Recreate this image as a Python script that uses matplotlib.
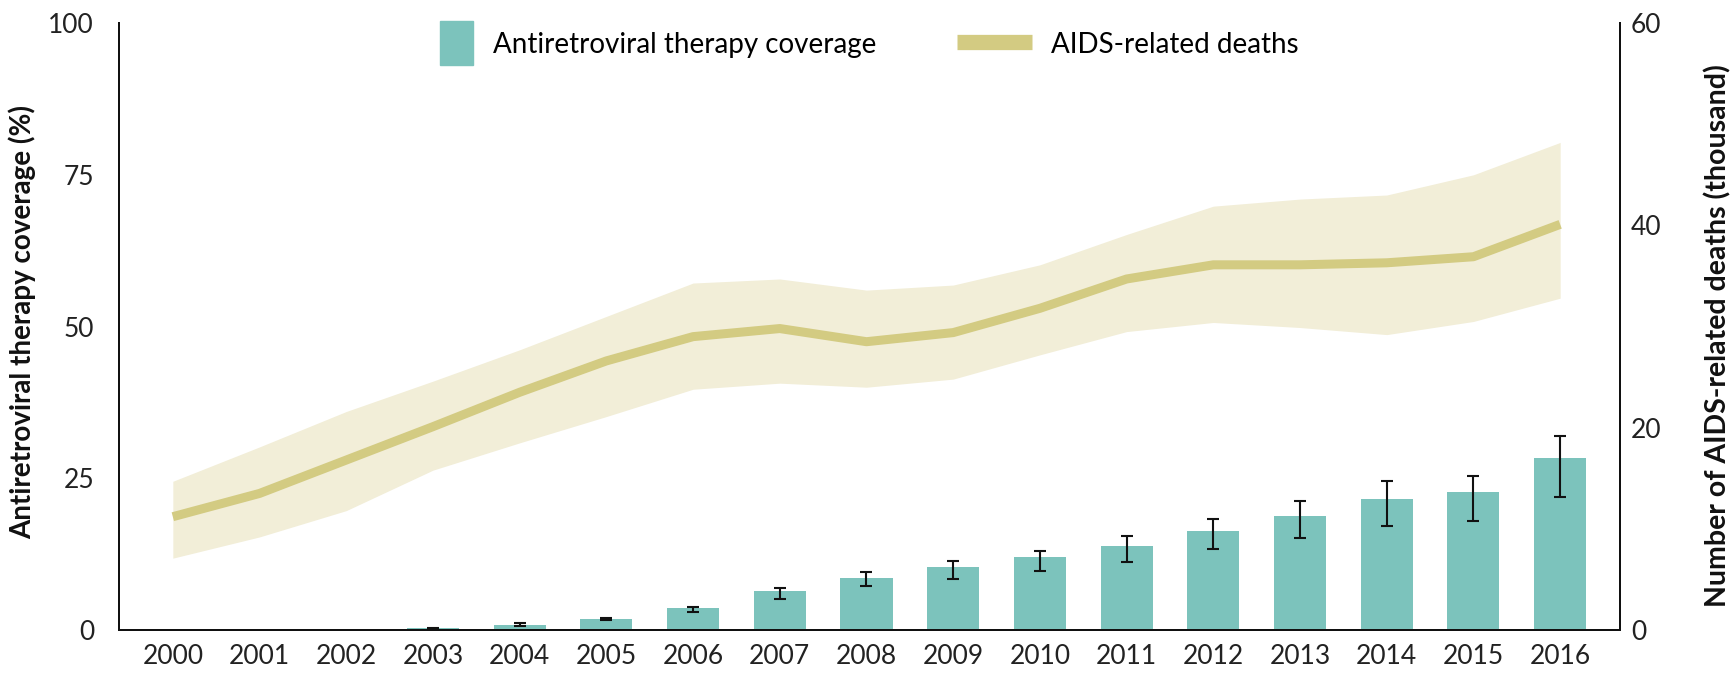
import numpy as np
import matplotlib
matplotlib.use("Agg")
import matplotlib.pyplot as plt
import matplotlib.patches as mpatches
from matplotlib.lines import Line2D
from matplotlib.legend_handler import HandlerPatch

# 数据：抗逆转录病毒治疗覆盖率(%) 与 艾滋病相关死亡人数(千)
years = list(range(2000, 2017))
coverage = [0, 0, 0, 0.3, 0.8, 1.8, 3.6, 6.4, 8.5, 10.3, 12.1, 13.9, 16.3, 18.8, 21.6, 22.7, 28.3]
cov_low = [0, 0, 0, 0.2, 0.6, 1.7, 3.0, 5.1, 7.3, 8.4, 9.8, 11.2, 13.3, 15.1, 17.1, 17.9, 21.9]
cov_high = [0, 0, 0, 0.4, 1.1, 1.9, 3.85, 7.0, 9.5, 11.3, 13.0, 15.5, 18.3, 21.2, 24.5, 25.4, 32.0]

deaths = [11.2, 13.5, 16.8, 20.1, 23.5, 26.6, 29.0, 29.8, 28.5, 29.4, 31.8, 34.7, 36.1, 36.1, 36.3, 36.9, 40.1]
deaths_low = [7.1, 9.2, 11.8, 15.8, 18.5, 21.1, 23.8, 24.4, 24.0, 24.8, 27.2, 29.5, 30.4, 29.9, 29.2, 30.5, 32.8]
deaths_high = [14.7, 18.1, 21.6, 24.6, 27.7, 31.0, 34.3, 34.7, 33.6, 34.1, 36.1, 39.1, 41.9, 42.6, 43.0, 45.0, 48.2]

bar_color = "#7CC3BC"
line_color = "#D3CB82"
band_color = "#F2EED8"
font = ["Lato", "DejaVu Sans"]

fig = plt.figure(figsize=(17.33, 6.78), dpi=100)
ax = fig.add_subplot(111)
fig.subplots_adjust(left=0.0687, right=0.9348, bottom=0.0708, top=0.966)
ax2 = ax.twinx()

# 柱状图 + 误差线
x = np.array(years)
cov = np.array(coverage)
ax.bar(x, cov, width=0.6, color=bar_color, zorder=2)
m = cov > 0
lo = cov - np.array(cov_low)
hi = np.array(cov_high) - cov
ax.errorbar(x[m], cov[m], yerr=[lo[m], hi[m]], fmt="none", ecolor="#111111",
            elinewidth=1.5, capsize=4, capthick=1.5, zorder=3)

# 死亡人数曲线 + 不确定区间
ax2.fill_between(x, deaths_low, deaths_high, color=band_color, lw=0, zorder=1)
ax2.plot(x, deaths, color=line_color, lw=6.5, solid_capstyle="butt", zorder=2)

ax.set_xlim(1999.38, 2016.69)
ax.set_ylim(0, 100)
ax2.set_ylim(0, 60)
ax.set_xticks(years)
ax.set_yticks([0, 25, 50, 75, 100])
ax2.set_yticks([0, 20, 40, 60])

for a in (ax, ax2):
    a.spines["top"].set_visible(False)
    for s in ("left", "right", "bottom"):
        a.spines[s].set_linewidth(1.4)
        a.spines[s].set_color("#111111")
    a.patch.set_visible(False)

ax.tick_params(axis="x", length=0, pad=10, labelsize=19)
ax.tick_params(axis="y", length=0, pad=18, labelsize=19)
ax2.tick_params(axis="y", length=0, pad=8, labelsize=19)
for lab in ax.get_xticklabels() + ax.get_yticklabels() + ax2.get_yticklabels():
    lab.set_family(font)
    lab.set_color("#222222")

ax.set_ylabel("Antiretroviral therapy coverage (%)", family=font,
              fontweight="bold", fontsize=20, color="#111111")
ax.yaxis.set_label_coords(-0.0555, 0.508)
ax2.set_ylabel("Number of AIDS-related deaths (thousand)", family=font,
               fontweight="bold", fontsize=20.5, color="#111111", rotation=90)
ax2.yaxis.set_label_coords(1.056, 0.485)


# 图例：柱子用竖长方块，曲线用粗线
def tall_rect(legend, orig_handle, xdescent, ydescent, width, height, fontsize):
    w = 24
    return mpatches.Rectangle((width - w - xdescent, -ydescent - 7), w, height + 14)


h_bar = mpatches.Patch(color=bar_color, label="Antiretroviral therapy coverage")
h_line = Line2D([], [], color=line_color, lw=11, solid_capstyle="butt", label="AIDS-related deaths")
leg = ax2.legend(handles=[h_bar, h_line], loc="center", bbox_to_anchor=(0.486, 0.965),
                 ncol=2, frameon=False, handlelength=2.7, handleheight=1.0,
                 handletextpad=0.7, columnspacing=2.9,
                 prop={"family": font, "size": 20},
                 handler_map={mpatches.Patch: HandlerPatch(patch_func=tall_rect)})
leg.set_zorder(10)

plt.savefig("out.png", dpi=100)
